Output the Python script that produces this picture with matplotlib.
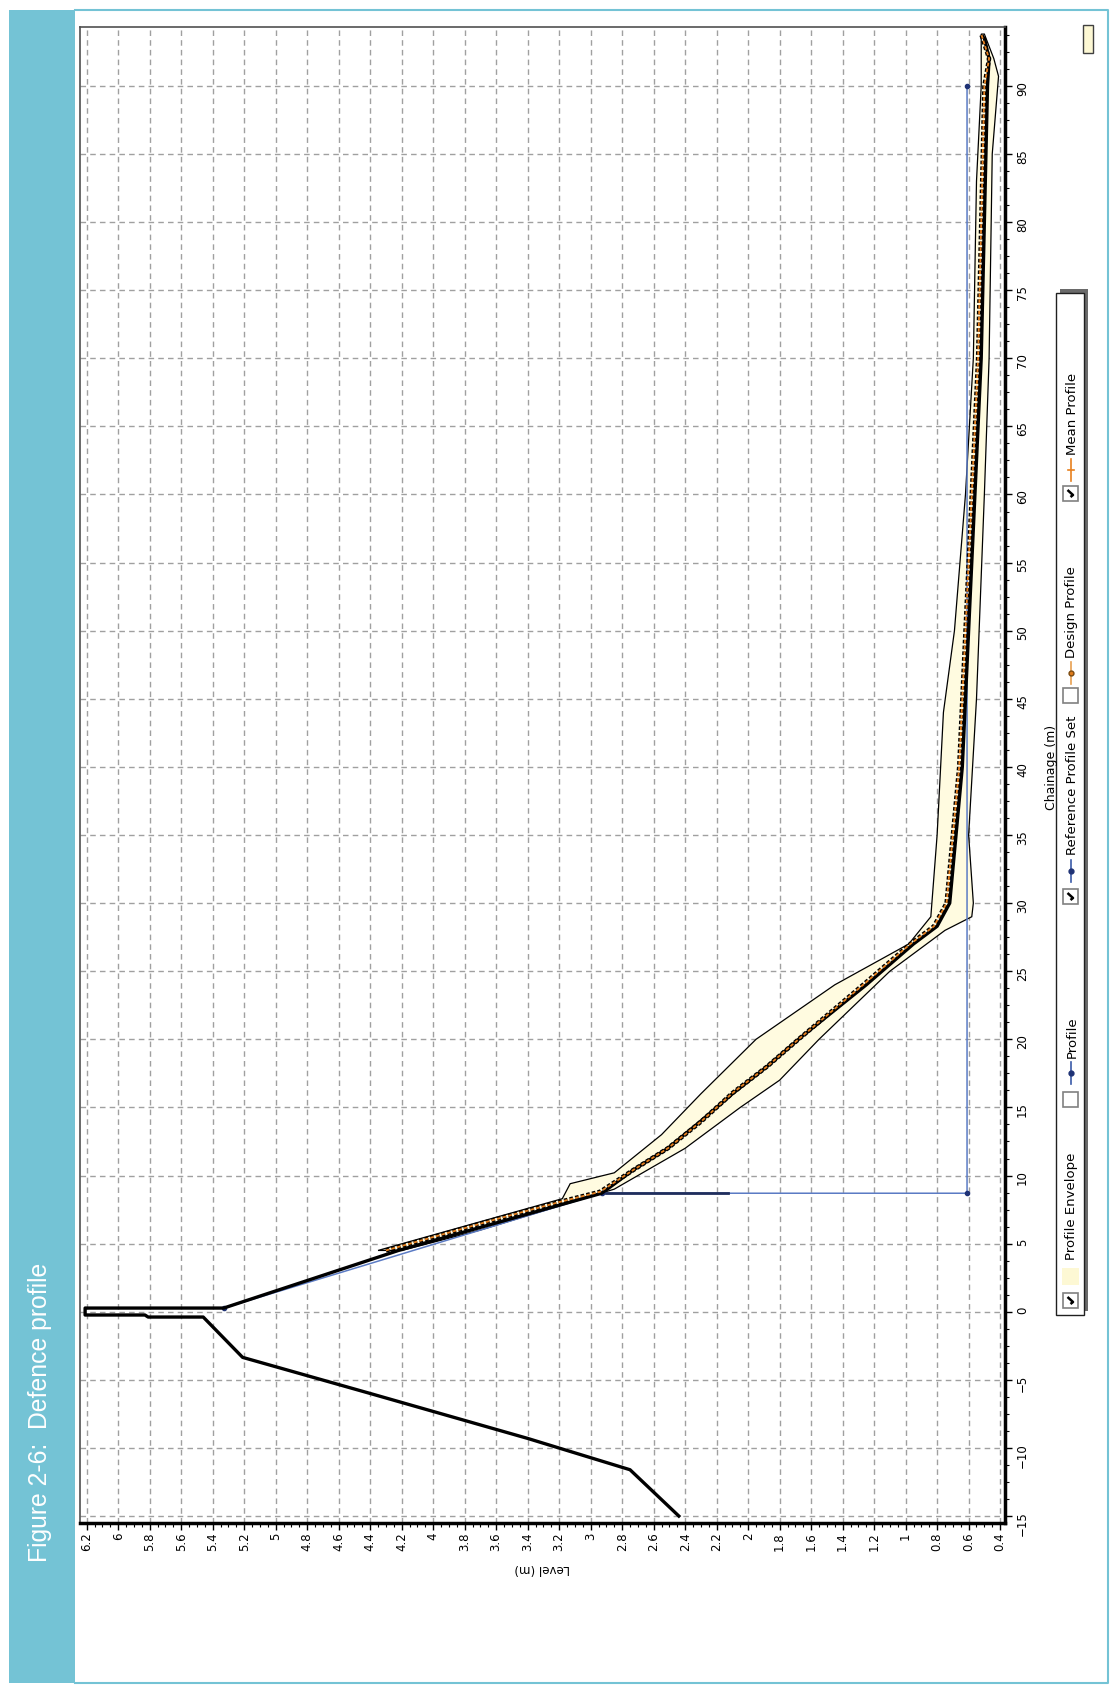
import numpy as np
import matplotlib.pyplot as plt
from matplotlib.patches import Rectangle
from matplotlib.ticker import MultipleLocator, FuncFormatter
import matplotlib.patheffects as pe

# page size in pixels
W, H = 1113, 1685

# chainage (m) / level (m) pairs for each series
profile_chain = [-15.0, -11.6, -9.3, -6.0, -3.35, -0.39, -0.39, -0.24, -0.24, 0.27, 0.27,
                 4.5, 8.7, 10.4, 12.0, 14.0, 16.0, 18.0, 20.1, 24.0, 27.0, 28.3, 30.0,
                 40.0, 50.0, 60.0, 70.0, 80.0, 90.0, 92.0, 93.5]
profile_level = [2.44, 2.75, 3.4, 4.4, 5.21, 5.46, 5.81, 5.83, 6.21, 6.21, 5.33,
                 4.22, 2.93, 2.73, 2.51, 2.3, 2.1, 1.88, 1.67, 1.25, 0.95, 0.8, 0.72,
                 0.64, 0.6, 0.56, 0.52, 0.5, 0.48, 0.47, 0.5]

ref_chain = [0.27, 8.7, 8.7, 90.0]
ref_level = [5.33, 2.93, 0.61, 0.61]

design_chain = [8.7, 8.7]
design_level = [2.9, 2.13]

mean_chain = [4.5, 6.86, 8.08, 8.81, 10.4, 12.0, 13.95, 16.05, 18.0, 20.1, 24.0, 27.0,
              28.3, 30.0, 40.0, 50.0, 60.0, 70.0, 80.0, 90.0, 92.0, 93.8]
mean_level = [4.3, 3.58, 3.19, 2.94, 2.73, 2.51, 2.3, 2.1, 1.88, 1.67, 1.27, 0.97,
              0.82, 0.74, 0.66, 0.62, 0.58, 0.54, 0.52, 0.5, 0.47, 0.52]

env_upper_chain = [4.5, 8.3, 9.4, 10.2, 13.0, 16.0, 20.0, 24.0, 27.0, 29.0, 35.0, 44.0,
                   50.0, 60.0, 70.0, 83.0, 90.0, 93.8]
env_upper_level = [4.35, 3.18, 3.13, 2.85, 2.55, 2.3, 1.95, 1.45, 0.98, 0.84, 0.8, 0.76,
                   0.69, 0.62, 0.57, 0.55, 0.52, 0.52]
env_lower_chain = [4.5, 6.0, 9.0, 12.0, 15.0, 17.0, 20.0, 25.0, 28.0, 29.0, 30.0, 35.0,
                   45.0, 60.0, 70.0, 85.0, 90.7, 92.0, 93.8]
env_lower_level = [4.2, 3.7, 2.85, 2.4, 2.05, 1.8, 1.55, 1.1, 0.75, 0.58, 0.57, 0.6,
                   0.55, 0.5, 0.47, 0.45, 0.41, 0.44, 0.5]

level_ticks = np.round(np.arange(0.4, 6.21, 0.2), 1)
chain_ticks = np.arange(-15, 91, 5)

legend_labels = ["Profile Envelope", "Profile", "Reference Profile Set",
                 "Design Profile", "Mean Profile"]
legend_checked = [True, False, True, False, True]

plt.rcParams['font.family'] = ['DejaVu Sans']

fig = plt.figure(figsize=(W / 100, H / 100), dpi=100)

# page layer in pixel units (y down)
page = fig.add_axes([0, 0, 1, 1])
page.set_xlim(0, W)
page.set_ylim(H, 0)
page.axis('off')

blue = '#74c3d5'
page.add_patch(Rectangle((9, 10), 66, 1673, color=blue, lw=0))
page.plot([75, 1108, 1108, 75], [10, 10, 1683, 1683], color=blue, lw=1.5)
page.text(40, 1412, "Figure 2-6:  Defence profile", rotation=90, color='white',
          family='Liberation Sans', fontsize=17.8, ha='center', va='center')

# chart axes, drawn turned on its side
ax = fig.add_axes([80 / W, 1 - 1523 / H, (1005 - 80) / W, (1523 - 27) / H])
ax.set_xlim(6.2425, 0.369)
ax.set_ylim(-15.51, 94.32)

ax.set_xticks(level_ticks)
ax.xaxis.set_major_formatter(FuncFormatter(lambda v, p: f"{v:g}"))
ax.xaxis.set_minor_locator(MultipleLocator(0.05))
ax.set_yticks(chain_ticks)
ax.yaxis.set_minor_locator(MultipleLocator(1.25))
ax.yaxis.tick_right()
ax.tick_params(axis='x', which='major', labelrotation=90, length=5, width=1, labelsize=8.5, pad=2)
ax.tick_params(axis='x', which='minor', length=3, width=0.8)
ax.tick_params(axis='y', which='major', labelrotation=90, length=5, width=1, labelsize=8.5, pad=3)
ax.tick_params(axis='y', which='minor', length=3, width=0.8)
ax.grid(True, which='major', color='#a0a0a0', ls=(0, (4, 3)), lw=1)

for s in ['left', 'top']:
    ax.spines[s].set_color('#505050')
    ax.spines[s].set_linewidth(1.2)
for s in ['right', 'bottom']:
    ax.spines[s].set_color('black')
    ax.spines[s].set_linewidth(2.5)

ax.set_xlabel("Level (m)", rotation=180, fontsize=8.5, ha='center', va='center')
ax.xaxis.set_label_coords(0.5, -0.0307)
ax.set_ylabel("Chainage (m)", rotation=90, fontsize=9, ha='center', va='center')
ax.yaxis.set_label_position('right')
ax.yaxis.set_label_coords(1.043, 0.505)

# envelope polygon
env_l = env_upper_level + env_lower_level[::-1]
env_c = env_upper_chain + env_lower_chain[::-1]
ax.fill(env_l, env_c, facecolor='#fffbe0', edgecolor='black', lw=0.9, zorder=3)

ax.plot(ref_level, ref_chain, color='#5b7bc4', lw=1.1, marker='o', ms=3,
        mfc='#1f3275', mec='#1f3275', zorder=4)
ax.plot(design_level, design_chain, color='#1f2d5c', lw=2, zorder=4)
ax.plot(profile_level, profile_chain, color='black', lw=2.4, zorder=5,
        solid_joinstyle='round')
ax.plot(mean_level, mean_chain, color='#e8801e', lw=1.3, zorder=6,
        dashes=(2, 1.2),
        path_effects=[pe.Stroke(linewidth=3.2, foreground='black'), pe.Normal()])

# legend box, turned like the chart
page.add_patch(Rectangle((1060, 289), 28, 1022, color='#6a6a6a', lw=0, zorder=1))
page.add_patch(Rectangle((1056, 293), 28, 1022, facecolor='white', edgecolor='#202020',
                         lw=1, zorder=2))
box_y = [1301, 1100, 897, 696, 494]
sym_y = [1276, 1073, 871, 673, 470]
txt_y = [1260, 1058, 855, 658, 455]
for lab, chk, by, sy, ty in zip(legend_labels, legend_checked, box_y, sym_y, txt_y):
    page.add_patch(Rectangle((1063, by - 8), 15, 15, facecolor='white', edgecolor='#808080',
                             lw=1.2, zorder=3))
    if chk:
        page.plot([1070.5, 1073, 1067.5], [by + 3, by + 1, by - 4], color='black', lw=1.8,
                  zorder=4, solid_capstyle='butt')
    page.text(1072, ty, lab, rotation=90, fontsize=9.5, ha='center', va='bottom',
              zorder=4)
# legend symbols
page.add_patch(Rectangle((1062, 1268), 17, 17, color='#fdf8d4', lw=0, zorder=3))
page.plot([1071, 1071], [1062, 1084], color='#3a5aa8', lw=1.2, zorder=3)
page.plot([1071], [1073], 'o', color='#1f3275', ms=3.5, zorder=4)
page.plot([1071, 1071], [860, 882], color='#3a5aa8', lw=1.2, zorder=3)
page.plot([1071], [871], 'o', color='#1f3275', ms=3.5, zorder=4)
page.plot([1071, 1071], [662, 684], color='#e8a050', lw=1.2, zorder=3)
page.plot([1071], [673], 'o', color='#e07b1a', mec='#7a4a10', ms=3.5, zorder=4)
page.plot([1071, 1071], [459, 481], color='#e8801e', lw=1.2, zorder=3)
page.plot([1068, 1074], [470, 470], color='#e8801e', lw=1.2, zorder=3)

# clipped item at the top right
page.add_patch(Rectangle((1083, 25), 10, 28, facecolor='#fdf8d4', edgecolor='#404040',
                         lw=1, zorder=3))

fig.savefig('out.png', dpi=100)
